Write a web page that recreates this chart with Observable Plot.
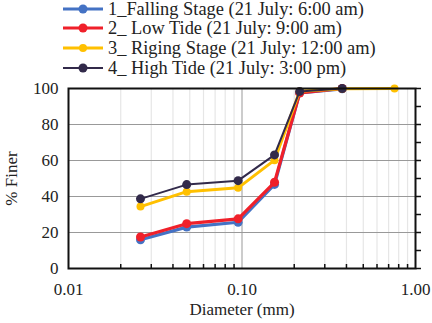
<!DOCTYPE html>
<html><head><meta charset="utf-8">
<script src="https://cdn.jsdelivr.net/npm/d3@7"></script>
<script src="https://cdn.jsdelivr.net/npm/@observablehq/plot@0.6"></script>
<style>
body{margin:0;background:#fff;font-family:"Liberation Serif","Times New Roman",Times,"DejaVu Serif",serif;}
#legend{position:relative;width:432px;height:80px;overflow:visible}
.row{position:absolute;left:0;height:16px;line-height:16px;display:flex;align-items:center;font-size:18.4px;color:#222;white-space:nowrap}
.row span{line-height:16px}
.row svg{margin-left:63px;margin-right:5px}
#chart svg{display:block}
#chart svg text{font-family:"Liberation Serif","Times New Roman",Times,"DejaVu Serif",serif}
</style></head>
<body>
<div id="legend"></div>
<div id="chart"></div>
<script>
const diameters = [0.026, 0.048, 0.095, 0.154, 0.215, 0.378, 0.757];
const seriesNames = [
  "1_Falling Stage (21 July: 6:00 am)",
  "2_ Low Tide (21 July: 9:00 am)",
  "3_ Riging Stage (21 July: 12:00 am)",
  "4_ High Tide (21 July: 3:00 pm)"
];
const fallingStage = [16.0, 23.0, 25.7, 46.7, 97.6, 99.8];
const lowTide      = [17.5, 24.9, 27.6, 47.9, 97.5, 100];
const rigingStage  = [34.4, 42.7, 44.8, 60.2, 98.5, 99.8, 100];
const highTide     = [38.7, 46.6, 48.8, 63.1, 98.4, 100];
const colors = ["#4472C4", "#F0202A", "#FFC000", "#322A4A"];
const widths = [3.2, 3.2, 3, 2];
const radii = [4.5, 4.5, 4, 4.5];
const yTicks = [0, 20, 40, 60, 80, 100];
const xTicks = [0.01, 0.1, 1];

const allSeries = [fallingStage, lowTide, rigingStage, highTide];
const tables = allSeries.map((vals, i) => vals.map((v, j) => ({d: diameters[j], p: v, s: seriesNames[i]})));

// legend
const leg = document.getElementById("legend");
seriesNames.forEach((name, i) => {
  const row = document.createElement("div");
  row.className = "row";
  row.style.top = (0.5 + 19.7 * i) + "px";
  row.innerHTML = `<svg width="40" height="12"><line x1="0" x2="40" y1="6" y2="6" stroke="${colors[i]}" stroke-width="${widths[i]}"/><circle cx="20" cy="6" r="${radii[i]}" fill="${colors[i]}"/></svg><span>${name}</span>`;
  leg.appendChild(row);
});

const minor = [];
for (const dec of [0.01, 0.1]) for (let k = 2; k <= 9; k++) minor.push(+(dec * k).toFixed(3));

const innerH = 243 - 8 - 55;
const marks = [
  Plot.gridX(minor, {stroke: "#e6e6e6", strokeOpacity: 1, strokeWidth: 1.2}),
  Plot.gridX([0.1], {stroke: "#999", strokeOpacity: 1}),
  Plot.gridY([20, 40, 60, 80], {stroke: "#999", strokeOpacity: 1}),
];
tables.forEach((t, i) => {
  marks.push(Plot.line(t, {x: "d", y: "p", stroke: colors[i], strokeWidth: widths[i]}));
  marks.push(Plot.dot(t, {x: "d", y: "p", fill: colors[i], r: radii[i]}));
});
marks.push(
  Plot.tickX(minor, {x: d => d, stroke: "#111", strokeWidth: 1.5, insetTop: innerH - 4}),
  Plot.axisY(d3.range(0, 101, 10), {anchor: "right", tickSize: 5, tickFormat: () => "", label: null, strokeWidth: 1.5, stroke: "#111"}),
  Plot.axisX(xTicks, {anchor: "bottom", tickSize: 0, tickPadding: 14, tickFormat: d3.format(".2f"), fontSize: 17, fill: "#222", label: "Diameter (mm)", labelAnchor: "center", labelArrow: "none", labelOffset: 46}),
  Plot.axisY(yTicks, {anchor: "left", tickSize: 0, tickPadding: 10, fontSize: 17, fill: "#222", label: "% Finer", labelAnchor: "center", labelArrow: "none", labelOffset: 64}),
  Plot.frame({stroke: "#111", strokeWidth: 2})
);

const chart = Plot.plot({
  width: 432,
  height: 243,
  marginTop: 8,
  marginBottom: 55,
  marginLeft: 68,
  marginRight: 17,
  style: {fontFamily: "'Liberation Serif', 'Times New Roman', serif", fontSize: "17px", background: "#fff", color: "#222"},
  x: {type: "log", domain: [0.01, 1]},
  y: {domain: [0, 100]},
  marks
});
document.getElementById("chart").appendChild(chart);
</script>
</body></html>
